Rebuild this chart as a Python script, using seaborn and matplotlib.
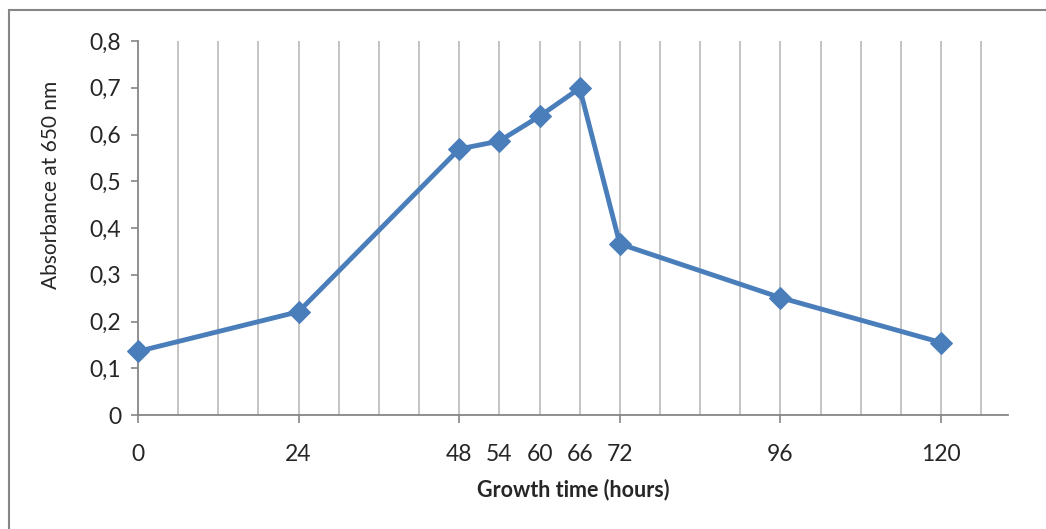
import pandas as pd
import numpy as np
import matplotlib
matplotlib.use('Agg')
import matplotlib.pyplot as plt
import seaborn as sns
from matplotlib.patches import Rectangle

# data
hours = [0, 24, 48, 54, 60, 66, 72, 96, 120]
absorbance = [0.136, 0.221, 0.569, 0.586, 0.639, 0.699, 0.366, 0.251, 0.155]

major_x = [0, 24, 48, 72, 96, 120]
minor_x = [54, 60, 66]
y_ticks = [0, 0.1, 0.2, 0.3, 0.4, 0.5, 0.6, 0.7, 0.8]
y_labels = ['0', '0,1', '0,2', '0,3', '0,4', '0,5', '0,6', '0,7', '0,8']
grid_x = list(range(6, 130, 6))

sns.set_style('white')
plt.rcParams['font.family'] = ['Lato', 'DejaVu Sans']

df = pd.DataFrame({'hours': hours, 'absorbance': absorbance})

fig = plt.figure(figsize=(10.46, 5.29), dpi=100)
ax = fig.add_axes([138/1046, 1 - 415/529, (1008-138)/1046, (415-41)/529])

# vertical gridlines every 6 hours
for g in grid_x:
    ax.axvline(g, color='#BFBFBF', lw=1.3, zorder=0)

sns.lineplot(data=df, x='hours', y='absorbance', ax=ax, color='#4A7EBB',
             lw=3.5, marker='D', markersize=10.8, markeredgecolor='#4A7EBB',
             zorder=3, clip_on=False)

ax.set_xlim(0, 130)
ax.set_ylim(0, 0.8)
ax.set_xticks(major_x)
ax.set_xticklabels([str(v) for v in major_x])
ax.set_xticks(minor_x, minor=True)
ax.set_xticklabels([str(v) for v in minor_x], minor=True)
ax.set_yticks(y_ticks)
ax.set_yticklabels(y_labels)

ax.tick_params(axis='x', which='major', direction='out', length=6, width=1.2,
               color='#868686', labelsize=16.5, pad=15, bottom=True)
ax.tick_params(axis='x', which='minor', length=0, labelsize=16.5, pad=21, bottom=True)
ax.tick_params(axis='y', direction='out', length=5, width=1.2,
               color='#868686', labelsize=16.5, pad=7, left=True)

for s in ['top', 'right']:
    ax.spines[s].set_visible(False)
for s in ['left', 'bottom']:
    ax.spines[s].set_color('#868686')
    ax.spines[s].set_linewidth(1.3)

ax.set_xlabel('Growth time (hours)', fontsize=15.5, fontweight='bold', labelpad=10)
ax.set_ylabel('Absorbance at 650 nm', fontsize=15)
ax.yaxis.set_label_coords(-0.089, 0.615)

# outer chart border
fig.add_artist(Rectangle((9/1046, -0.05), 1.1, 1 - 10/529 + 0.05,
                         transform=fig.transFigure, fill=False,
                         edgecolor='#868686', lw=1.5))

fig.savefig('out.png', dpi=100)
